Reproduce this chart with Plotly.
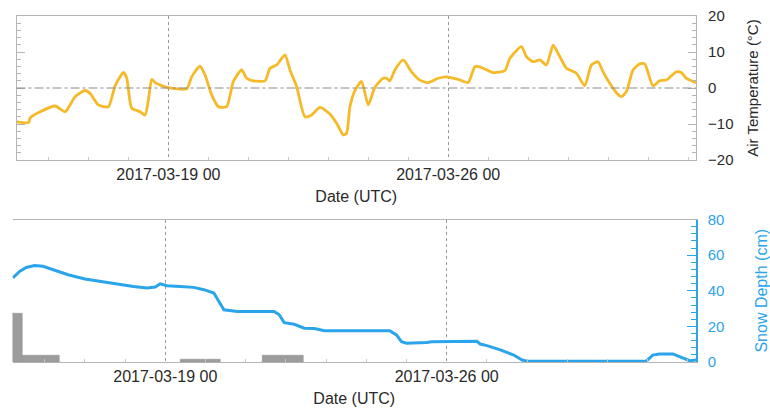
import pandas as pd
import plotly.graph_objects as go

# Air temperature (°C), hourly-ish samples
temp_time = [
    "2017-03-15 05:00", "2017-03-15 12:00", "2017-03-15 13:00", "2017-03-15 19:00",
    "2017-03-16 04:00", "2017-03-16 10:00", "2017-03-16 16:00", "2017-03-16 22:00",
    "2017-03-17 01:00", "2017-03-17 06:00", "2017-03-17 12:00", "2017-03-17 16:00",
    "2017-03-17 21:00", "2017-03-17 23:00", "2017-03-18 02:00", "2017-03-18 07:00",
    "2017-03-18 10:00", "2017-03-18 12:00", "2017-03-18 14:00", "2017-03-18 16:00",
    "2017-03-18 23:00", "2017-03-19 11:00", "2017-03-19 14:00", "2017-03-19 19:00",
    "2017-03-19 22:00", "2017-03-20 02:00", "2017-03-20 06:00", "2017-03-20 11:00",
    "2017-03-20 15:00", "2017-03-20 20:00", "2017-03-20 23:00", "2017-03-21 03:00",
    "2017-03-21 10:00", "2017-03-21 13:00", "2017-03-21 17:00", "2017-03-21 22:00",
    "2017-03-22 01:00", "2017-03-22 05:00", "2017-03-22 10:00", "2017-03-22 14:00",
    "2017-03-22 19:00", "2017-03-23 01:00", "2017-03-23 05:00", "2017-03-23 09:00",
    "2017-03-23 11:00", "2017-03-23 13:00", "2017-03-23 16:00", "2017-03-23 20:00",
    "2017-03-24 00:00", "2017-03-24 04:00", "2017-03-24 09:00", "2017-03-24 11:00",
    "2017-03-24 13:00", "2017-03-24 16:00", "2017-03-24 21:00", "2017-03-25 02:00",
    "2017-03-25 07:00", "2017-03-25 12:00", "2017-03-25 18:00", "2017-03-25 23:00",
    "2017-03-26 06:00", "2017-03-26 12:00", "2017-03-26 16:00", "2017-03-26 19:00",
    "2017-03-27 03:00", "2017-03-27 10:00", "2017-03-27 13:00", "2017-03-27 20:00",
    "2017-03-27 23:00", "2017-03-28 03:00", "2017-03-28 07:00", "2017-03-28 11:00",
    "2017-03-28 15:00", "2017-03-28 18:00", "2017-03-28 23:00", "2017-03-29 05:00",
    "2017-03-29 10:00", "2017-03-29 14:00", "2017-03-29 18:00", "2017-03-29 21:00",
    "2017-03-30 01:00", "2017-03-30 05:00", "2017-03-30 08:00", "2017-03-30 11:00",
    "2017-03-30 15:00", "2017-03-30 19:00", "2017-03-30 22:00", "2017-03-31 03:00",
    "2017-03-31 07:00", "2017-03-31 11:00", "2017-03-31 17:00", "2017-03-31 20:00",
    "2017-03-31 23:00", "2017-04-01 05:00",
]
temp_c = [
    -9.4, -9.6, -8.3, -6.6, -5.0, -6.6, -2.4, -0.7, -1.5, -4.7, -5.2, 0.6,
    4.3, 2.7, -5.6, -6.6, -7.5, -3.3, 2.4, 1.5, 0.2, -0.2, 3.1, 6.1,
    3.6, -1.9, -5.2, -5.2, 1.8, 5.0, 2.7, 2.0, 2.0, 5.5, 6.4, 9.2,
    5.0, 0.4, -8.0, -7.5, -5.4, -7.2, -9.8, -13.0, -12.6, -5.2, -0.7, 1.8,
    -4.7, 0.2, 2.7, 2.7, 2.0, 5.0, 7.8, 4.5, 2.2, 1.5, 2.7, 3.1,
    2.4, 1.5, 5.9, 5.9, 4.3, 4.8, 8.2, 11.5, 8.7, 7.3, 7.8, 6.4,
    11.9, 9.6, 5.5, 4.1, 0.6, 6.4, 7.3, 4.5, 1.3, -1.3, -2.4, -1.0,
    5.0, 6.7, 6.7, 0.6, 2.0, 2.2, 4.5, 4.3, 2.7, 1.5,
]

# Snow depth (cm)
snow_time = [
    "2017-03-15 05:00", "2017-03-15 09:00", "2017-03-15 13:00", "2017-03-15 18:00",
    "2017-03-15 23:00", "2017-03-16 06:00", "2017-03-16 14:00", "2017-03-17 00:00",
    "2017-03-17 10:00", "2017-03-17 19:30", "2017-03-18 05:00", "2017-03-18 13:00",
    "2017-03-18 18:00", "2017-03-18 21:00", "2017-03-19 01:00", "2017-03-19 09:00",
    "2017-03-19 17:00", "2017-03-19 23:00", "2017-03-20 05:00", "2017-03-20 08:00",
    "2017-03-20 11:00", "2017-03-20 19:00", "2017-03-21 17:00", "2017-03-21 20:00",
    "2017-03-21 23:00", "2017-03-22 05:00", "2017-03-22 11:00", "2017-03-22 17:00",
    "2017-03-22 23:00", "2017-03-24 14:00", "2017-03-24 18:00", "2017-03-24 21:00",
    "2017-03-25 00:00", "2017-03-25 12:00", "2017-03-25 15:00", "2017-03-26 18:00",
    "2017-03-26 20:00", "2017-03-27 00:00", "2017-03-27 08:00", "2017-03-27 16:00",
    "2017-03-27 21:00", "2017-03-28 00:00", "2017-03-30 23:00", "2017-03-31 03:00",
    "2017-03-31 07:00", "2017-03-31 15:00", "2017-03-31 19:00", "2017-03-31 22:00",
    "2017-04-01 01:00", "2017-04-01 05:00",
]
snow_cm = [
    47.2, 50.9, 53.1, 54.1, 53.7, 51.5, 49.0, 46.6, 45.1, 43.6, 42.4, 41.5,
    42.1, 43.9, 42.8, 42.4, 41.9, 40.6, 38.7, 34.0, 29.3, 28.3, 28.3, 26.5,
    22.1, 21.2, 19.0, 18.8, 17.6, 17.6, 15.2, 11.4, 10.5, 10.9, 11.4, 11.6,
    10.1, 9.2, 6.8, 3.9, 1.1, 0.4, 0.4, 3.9, 4.5, 4.5, 3.0, 1.5,
    0.7, 1.1,
]

# Gray block bars along the bottom panel (start, end, height)
bar_start = ["2017-03-15 04:48", "2017-03-15 11:00", "2017-03-19 09:00", "2017-03-21 10:00"]
bar_end = ["2017-03-15 11:00", "2017-03-16 09:00", "2017-03-20 09:00", "2017-03-22 10:30"]
bar_height = [27, 3.4, 1.5, 3.4]

x_range = ["2017-03-15 04:48", "2017-04-01 04:48"]

TEMP_COLOR = "#F6B928"
SNOW_COLOR = "#2AA4EA"
FRAME = "#b4b4b4"
TXT = "#2a2a2a"
FONT = "Liberation Sans, Arial, sans-serif"

bs = pd.to_datetime(bar_start)
be = pd.to_datetime(bar_end)
bar_mid = bs + (be - bs) / 2
bar_width = [(e - s).total_seconds() * 1000 for s, e in zip(bs, be)]

fig = go.Figure()

fig.add_trace(go.Scatter(
    x=temp_time, y=temp_c, mode="lines",
    line=dict(color=TEMP_COLOR, width=2.8, shape="spline", smoothing=0.6),
    xaxis="x", yaxis="y", showlegend=False,
))

fig.add_trace(go.Bar(
    x=bar_mid, y=bar_height, width=bar_width,
    marker=dict(color="#9c9c9c", line=dict(color="#8a8a8a", width=0.5)),
    xaxis="x2", yaxis="y2", showlegend=False,
))

fig.add_trace(go.Scatter(
    x=snow_time, y=snow_cm, mode="lines",
    line=dict(color=SNOW_COLOR, width=3),
    xaxis="x2", yaxis="y2", showlegend=False,
))

H = 408.0
W = 770.0

xcommon = dict(
    type="date", range=x_range, automargin=False,
    tick0="2017-03-19", dtick=7 * 86400000,
    tickformat="%Y-%m-%d %H",
    ticks="", showline=True, linecolor=FRAME, linewidth=1.2, mirror=True,
    showgrid=True, gridcolor="#999999", griddash="dot", gridwidth=1,
    minor=dict(ticks="inside", dtick=86400000, tick0="2017-03-19",
               ticklen=3, tickcolor="#c8c8c8", showgrid=False),
    tickfont=dict(size=16, color=TXT, family=FONT),
    zeroline=False,
    title=dict(text="Date (UTC)", font=dict(size=16, color=TXT, family=FONT), standoff=8),
)

fig.update_layout(
    width=770, height=408,
    margin=dict(l=0, r=0, t=0, b=0, autoexpand=False),
    paper_bgcolor="white", plot_bgcolor="white",
    bargap=0,
    xaxis=dict(xcommon, domain=[16.5 / W, 696 / W], anchor="y"),
    xaxis2=dict(xcommon, domain=[12.5 / W, 696 / W], anchor="y2"),
    yaxis=dict(
        domain=[1 - 160 / H, 1 - 16 / H], anchor="x", side="right", automargin=False,
        range=[-20, 20], dtick=10, tick0=0,
        ticks="inside", ticklen=8, tickcolor=FRAME,
        minor=dict(ticks="inside", dtick=2, ticklen=4, tickcolor=FRAME),
        showline=True, linecolor=FRAME, linewidth=1.2, mirror="ticks",
        showgrid=False, zeroline=False,
        ticklabelstandoff=8,
        tickfont=dict(size=15, color=TXT, family=FONT),
        title=dict(text="Air Temperature (°C)", font=dict(size=15, color=TXT, family=FONT), standoff=14),
    ),
    yaxis2=dict(
        domain=[1 - 362 / H, 1 - 219.5 / H], anchor="x2", side="right", automargin=False,
        range=[0, 80], dtick=20, tick0=0,
        ticks="inside", ticklen=9, tickcolor=SNOW_COLOR, tickwidth=1.2,
        minor=dict(ticks="inside", dtick=4, ticklen=5, tickcolor=SNOW_COLOR),
        showline=True, linecolor=SNOW_COLOR, linewidth=1.5,
        showgrid=False, zeroline=False,
        ticklabelstandoff=7,
        tickfont=dict(size=15, color=SNOW_COLOR, family=FONT),
        title=dict(text="Snow Depth (cm)", font=dict(size=16, color=SNOW_COLOR, family=FONT), standoff=32),
    ),
    yaxis3=dict(
        overlaying="y2", anchor="x2", side="left", automargin=False,
        range=[0, 80], dtick=20, tick0=0,
        ticks="inside", ticklen=7, tickcolor="#c4c4c4",
        minor=dict(ticks="inside", dtick=2, ticklen=4, tickcolor="#c4c4c4"),
        showline=True, linecolor=FRAME, linewidth=1.2,
        showticklabels=False, showgrid=False, zeroline=False,
    ),
)

# dash-dot reference line at 0 °C
fig.add_shape(type="line", xref="x domain", yref="y", x0=0, x1=1, y0=0, y1=0,
              line=dict(color="#8c8c8c", width=1.2, dash="dashdot"))

fig.write_html("out.html")
